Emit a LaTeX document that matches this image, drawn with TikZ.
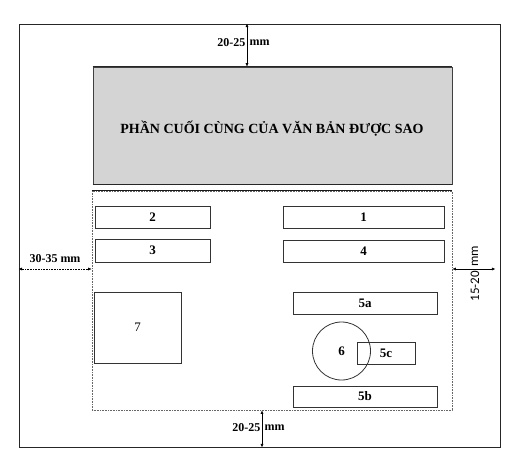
\documentclass[tikz,border=0pt]{standalone}
\usepackage{fontspec}
\setmainfont{Liberation Serif}
\newfontfamily\calib{Carlito}
\usetikzlibrary{arrows.meta}
\begin{document}
\begin{tikzpicture}[x=1pt,y=-1pt,
  numbox/.style={draw=black!80, line width=0.8pt, inner sep=0pt, font=\fontsize{13}{15}\selectfont\bfseries},
  dimarrow/.style={line width=0.6pt, {Latex[length=3.5pt,width=3pt]}-{Latex[length=3.5pt,width=3pt]}},
  dimlabel/.style={font=\fontsize{12}{14}\selectfont\bfseries, inner sep=0pt}]
\useasboundingbox (0,0) rectangle (522,475);
% page
\node[draw=black!85, line width=0.9pt, minimum width=481pt, minimum height=423pt, inner sep=0pt] (page) at (259.5,235.5) {};
% header
\node[draw=black!75, line width=0.6pt, fill=black!17, minimum width=359pt, minimum height=117pt, inner sep=0pt] (hdr) at (272.5,125.5) {};
\draw[line width=1.1pt, black!85] (hdr.north west) -- (hdr.north east);
\draw[line width=1.1pt, black!85] (hdr.south west) -- (hdr.south east);
\node[font=\fontsize{14}{16}\selectfont\bfseries, inner sep=0pt] (title) at (272,129) {PHẦN CUỐI CÙNG CỦA VĂN BẢN ĐƯỢC SAO};
% content region
\node[draw=black!60, densely dotted, line width=0.6pt, minimum width=360pt, minimum height=219pt, inner sep=0pt] (content) at (272,300.5) {};
\draw[line width=1.5pt, black!90] (content.north west) -- (content.north east);
% boxes
\node[numbox, minimum width=115pt, minimum height=22pt] (b2) at (152.5,217) {2};
\node[numbox, minimum width=161pt, minimum height=22pt] (b1) at (363.5,217) {1};
\node[numbox, minimum width=115pt, minimum height=23pt] (b3) at (152.5,250.5) {3};
\node[numbox, minimum width=161pt, minimum height=22pt] (b4) at (363.5,251) {4};
\node[numbox, minimum width=87pt, minimum height=71pt, font=\fontsize{13}{15}\selectfont] (b7) at (137.5,327.5) {7};
\node[numbox, minimum width=144pt, minimum height=22pt] (b5a) at (365,303) {5a};
\node[numbox, minimum width=58pt, minimum height=22pt] (b5c) at (386,353) {5c};
\node[numbox, minimum width=144pt, minimum height=21pt] (b5b) at (365,396.5) {5b};
\node[numbox, circle, minimum size=58pt] (c6) at (341.5,351) {6};
% dimension arrows
\coordinate (ta) at (247,0);
\draw[dimarrow] (ta |- page.north) -- (ta |- hdr.north);
\node[dimlabel, anchor=east] (tl1) at (245.5,43) {20-25};
\node[dimlabel, anchor=west] (tl2) at (249.5,43) {mm};
\coordinate (ba) at (262,0);
\draw[dimarrow] (ba |- content.south) -- (ba |- page.south);
\node[dimlabel, anchor=east] (bl1) at (260.5,428) {20-25};
\node[dimlabel, anchor=west] (bl2) at (264.5,428) {mm};
\coordinate (la) at (0,269);
\draw[dimarrow, densely dotted] (la -| page.west) -- (la -| content.west);
\node[dimlabel] (ll) at (55,259) {30-35 mm};
\coordinate (ra) at (0,269);
\draw[dimarrow] (ra -| content.east) -- ([xshift=-5pt]ra -| page.east);
\node[inner sep=0pt, rotate=90, anchor=east, font=\calib\fontsize{13}{15}\selectfont] (rl1) at (475,271) {15-20};
\node[inner sep=0pt, rotate=90, anchor=west, font=\calib\fontsize{13}{15}\selectfont] (rl2) at (475,267) {mm};
\end{tikzpicture}
\end{document}
